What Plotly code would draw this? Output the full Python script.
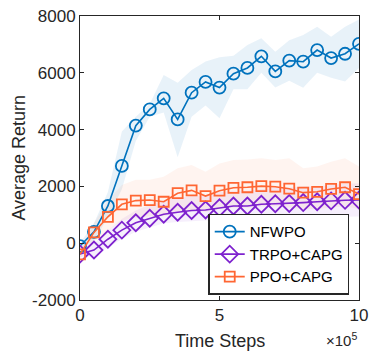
import plotly.graph_objects as go

time_steps = [0, 0.5, 1, 1.5, 2, 2.5, 3, 3.5, 4, 4.5, 5, 5.5, 6, 6.5, 7, 7.5, 8, 8.5, 9, 9.5, 10]  # x 1e5

nfwpo_mean = [-100, 400, 1310, 2720, 4140, 4710, 5100, 4360, 5300, 5680, 5480, 5970, 6170, 6580, 6050, 6430, 6390, 6800, 6520, 6670, 7020]
nfwpo_upper = [0, 700, 1800, 3930, 4450, 4900, 5920, 5650, 6100, 6400, 6550, 6600, 6980, 7220, 6740, 7150, 7330, 7620, 7270, 7620, 7880]
nfwpo_lower = [-250, 100, 900, 1900, 3600, 4450, 4600, 3030, 4450, 4850, 4400, 5420, 5420, 6000, 5480, 5720, 5470, 6000, 5830, 5690, 6170]

trpo_mean = [-380, -240, 140, 460, 720, 880, 1020, 1090, 1150, 1170, 1250, 1310, 1310, 1370, 1390, 1400, 1430, 1460, 1490, 1510, 1520]
trpo_upper = [-250, 0, 450, 850, 1150, 1350, 1500, 1600, 1650, 1700, 1800, 1850, 1850, 1900, 1950, 1950, 2000, 2000, 2050, 2100, 2100]
trpo_lower = [-500, -450, -150, 150, 400, 550, 700, 750, 780, 800, 820, 850, 850, 870, 880, 880, 900, 900, 920, 930, 940]

ppo_mean = [-390, 380, 930, 1370, 1500, 1520, 1460, 1760, 1860, 1660, 1850, 1950, 1970, 2010, 1990, 1920, 1780, 1810, 1910, 1970, 1730]
ppo_upper = [-200, 700, 1500, 2050, 2230, 2230, 2340, 2640, 2750, 2520, 2810, 2930, 2950, 2990, 2930, 2990, 2640, 2700, 2870, 2990, 2700]
ppo_lower = [-550, 50, 450, 800, 900, 950, 950, 1100, 1150, 1100, 1200, 1250, 1250, 1300, 1300, 1250, 1200, 1200, 1250, 1300, 1200]

y_ticks = [-2000, 0, 2000, 4000, 6000, 8000]
y_labels = ["-2000", "0", "2000", "4000", "6000", "8000"]
x_ticks = [0, 5, 10]
x_labels = ["0", "5", "10"]

FONT = "Liberation Sans, Arial, sans-serif"
INK = "#262626"

series = [
    ("NFWPO", nfwpo_mean, nfwpo_upper, nfwpo_lower, "#0072BD", "rgba(0,114,189,0.09)", "circle-open", 12),
    ("TRPO+CAPG", trpo_mean, trpo_upper, trpo_lower, "#7E22CE", "rgba(126,34,206,0.07)", "diamond-open", 13),
    ("PPO+CAPG", ppo_mean, ppo_upper, ppo_lower, "#FF6633", "rgba(255,102,51,0.075)", "square-open", 10),
]

fig = go.Figure()
for name, m, up, lo, col, fill, sym, sz in series:
    fig.add_trace(go.Scatter(x=time_steps, y=up, mode="lines", line=dict(width=0),
                             showlegend=False, hoverinfo="skip"))
    fig.add_trace(go.Scatter(x=time_steps, y=lo, mode="lines", line=dict(width=0),
                             fill="tonexty", fillcolor=fill, showlegend=False, hoverinfo="skip"))

for name, m, up, lo, col, fill, sym, sz in series:
    fig.add_trace(go.Scatter(x=time_steps, y=m, mode="lines+markers", name=name,
                             line=dict(color=col, width=1.6),
                             marker=dict(symbol=sym, size=sz, color=col, line=dict(width=1.8, color=col))))

axis_common = dict(showline=True, linecolor=INK, linewidth=1, mirror="ticks",
                   ticks="inside", ticklen=4, tickcolor=INK, showgrid=False, zeroline=False,
                   automargin=False,
                   tickfont=dict(family=FONT, size=17, color=INK))

fig.update_xaxes(range=[0, 10], tickvals=x_ticks, ticktext=x_labels, **axis_common)
fig.update_yaxes(range=[-2000, 8000], tickvals=y_ticks, ticktext=y_labels, **axis_common)

fig.add_annotation(text="Time Steps", xref="paper", yref="paper", x=0.5, y=-0.143,
                   xanchor="center", yanchor="middle", showarrow=False,
                   font=dict(family=FONT, size=18, color=INK))
fig.add_annotation(text="Average Return", xref="paper", yref="paper", x=-0.22, y=0.5,
                   xanchor="center", yanchor="middle", textangle=-90, showarrow=False,
                   font=dict(family=FONT, size=18, color=INK))
fig.add_annotation(text="×10<sup>5</sup>", xref="paper", yref="paper", x=1.0, y=-0.178,
                   xanchor="right", yanchor="bottom", showarrow=False,
                   font=dict(family=FONT, size=15, color=INK))

fig.update_layout(
    width=369, height=351,
    margin=dict(l=80, r=10, t=16, b=51, autoexpand=False),
    paper_bgcolor="white", plot_bgcolor="white",
    legend=dict(x=0.965, y=0.018, xanchor="right", yanchor="bottom",
                bgcolor="white", bordercolor=INK, borderwidth=1.5,
                font=dict(family=FONT, size=15, color="#000000"),
                itemwidth=30, tracegroupgap=0, traceorder="normal"),
)

fig.write_html("out.html", config={"displayModeBar": False},
               post_script="document.body.style.margin='0';document.body.style.overflow='hidden';")
